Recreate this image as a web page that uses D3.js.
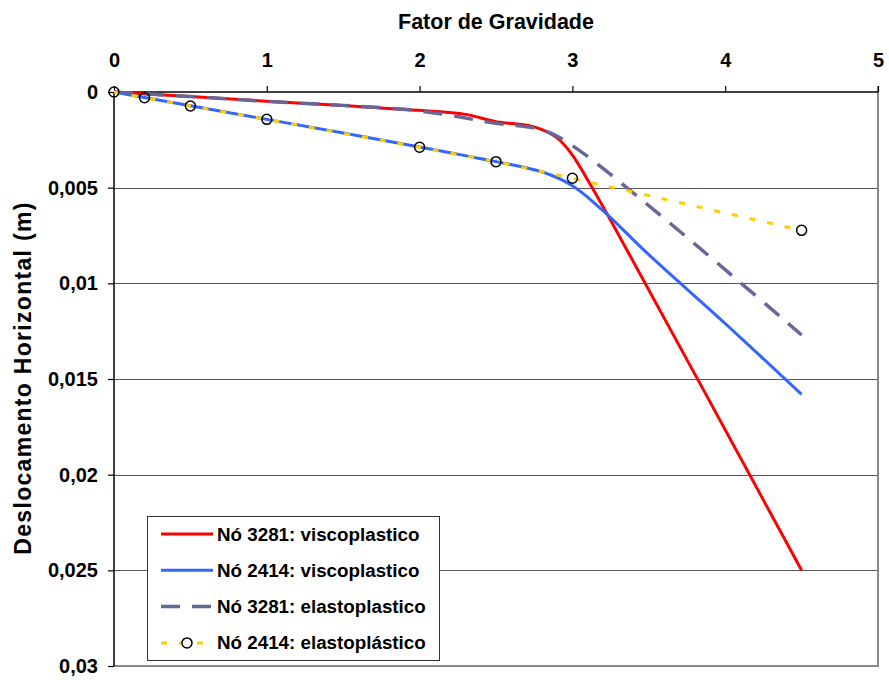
<!DOCTYPE html>
<html>
<head>
<meta charset="utf-8">
<script src="https://cdn.jsdelivr.net/npm/d3@7"></script>
<style>
  html, body { margin: 0; padding: 0; background: #fff; }
  svg { display: block; font-family: "Liberation Sans", Arial, sans-serif; font-weight: bold; }
</style>
</head>
<body>
<svg id="chart" width="889" height="680"></svg>
<script>
// Gravity factor (x) vs horizontal displacement (y, downward)
const xTicks = [0, 1, 2, 3, 4, 5];
const yTicks = [0, 0.005, 0.01, 0.015, 0.02, 0.025, 0.03];
const yTickLabels = ["0", "0,005", "0,01", "0,015", "0,02", "0,025", "0,03"];

const seriesNames = [
  "Nó 3281: viscoplastico",
  "Nó 2414: viscoplastico",
  "Nó 3281: elastoplastico",
  "Nó 2414: elastoplástico"
];

// Nó 3281 viscoplastico
const fg3281v = [0, 0.5, 1, 1.5, 2, 2.3, 2.5, 2.75, 2.9, 3.0, 3.1, 3.25, 4.5];
const d3281v  = [0, 0.00024, 0.00048, 0.00071, 0.00096, 0.00117, 0.00155, 0.00182, 0.0024, 0.0033, 0.0046, 0.0067, 0.025];

// Nó 2414 viscoplastico
const fg2414v = [0, 0.2, 0.5, 1, 2, 2.5, 2.8, 3.0, 3.2, 3.5, 4.0, 4.5];
const d2414v  = [0, 0.00029, 0.00072, 0.00143, 0.00287, 0.00364, 0.00417, 0.0049, 0.0062, 0.0085, 0.0121, 0.0158];

// Nó 3281 elastoplastico
const fg3281e = [0, 0.5, 1, 2, 2.5, 2.8, 3.0, 4.5];
const d3281e  = [0, 0.00024, 0.00049, 0.00099, 0.00164, 0.00198, 0.0028, 0.0127];

// Nó 2414 elastoplástico
const fg2414e = [0, 0.2, 0.5, 1, 2, 2.5, 3, 4.5];
const d2414e  = [0, 0.0003, 0.00073, 0.00143, 0.00289, 0.00364, 0.00451, 0.00723];

const svg = d3.select("#chart");
const pLeft = 114, pRight = 878, pTop = 92, pBottom = 666;

const x = d3.scaleLinear().domain([0, 5]).range([pLeft, pRight]);
const y = d3.scaleLinear().domain([0, 0.03]).range([pTop, pBottom]);

// horizontal gridlines
svg.append("g")
  .selectAll("line")
  .data(yTicks.slice(1, -1))
  .join("line")
  .attr("x1", pLeft).attr("x2", pRight)
  .attr("y1", d => Math.round(y(d)) + 0.5).attr("y2", d => Math.round(y(d)) + 0.5)
  .attr("stroke", "#5a5a5a").attr("stroke-width", 1);

// plot frame on right and bottom
svg.append("path")
  .attr("d", `M${pRight},${pTop - 6} V${pBottom} H${pLeft}`)
  .attr("fill", "none").attr("stroke", "#888").attr("stroke-width", 2);

// top axis
const xAxis = svg.append("g")
  .attr("transform", `translate(0,${pTop})`)
  .call(d3.axisTop(x).tickValues(xTicks).tickFormat(d3.format("d")).tickSize(6).tickPadding(19));
xAxis.selectAll("text").attr("font-size", 20).attr("font-family", "Liberation Sans, Arial, sans-serif").attr("font-weight", "bold").attr("fill", "#000");
xAxis.select(".domain").attr("d", `M${pLeft},0H${pRight}`).attr("stroke", "#000").attr("stroke-width", 1.5);
xAxis.selectAll(".tick line").attr("stroke", "#000").attr("stroke-width", 1.2);

// left axis
const yAxis = svg.append("g")
  .attr("transform", `translate(${pLeft},0)`)
  .call(d3.axisLeft(y).tickValues(yTicks).tickFormat((d, i) => yTickLabels[i]).tickSize(6).tickPadding(10));
yAxis.selectAll("text").attr("font-size", 20).attr("font-family", "Liberation Sans, Arial, sans-serif").attr("font-weight", "bold").attr("fill", "#000");
yAxis.select(".domain").attr("d", `M0,${pTop}V${pBottom}`).attr("stroke", "#000").attr("stroke-width", 1.5);
yAxis.selectAll(".tick line").attr("stroke", "#000").attr("stroke-width", 1.2);

// axis titles
svg.append("text")
  .attr("x", (pLeft + pRight) / 2).attr("y", 29)
  .attr("text-anchor", "middle").attr("font-size", 21.5)
  .text("Fator de Gravidade");

svg.append("text")
  .attr("transform", `translate(31,378) rotate(-90)`)
  .attr("text-anchor", "middle").attr("font-size", 23)
  .attr("letter-spacing", 1.3)
  .text("Deslocamento Horizontal (m)");

const pts = (xs, ys) => xs.map((v, i) => [v, ys[i]]);
const smooth = d3.line().x(d => x(d[0])).y(d => y(d[1])).curve(d3.curveCatmullRom.alpha(0.5));
const straight = d3.line().x(d => x(d[0])).y(d => y(d[1]));

const styles = [
  { data: pts(fg3281v, d3281v), color: "#ff0000", width: 3, dash: null, gen: smooth },
  { data: pts(fg2414v, d2414v), color: "#3366ff", width: 3, dash: null, gen: smooth },
  { data: pts(fg3281e, d3281e), color: "#666699", width: 3.5, dash: "19,12", gen: smooth },
  { data: pts(fg2414e, d2414e), color: "#ffcc00", width: 3, dash: "6,12", gen: straight }
];

const plot = svg.append("g");
styles.forEach(s => {
  plot.append("path")
    .attr("d", s.gen(s.data))
    .attr("fill", "none")
    .attr("stroke", s.color)
    .attr("stroke-width", s.width)
    .attr("stroke-dasharray", s.dash)
    .attr("stroke-linejoin", "round");
});

// markers of the elastoplastic series of Nó 2414
plot.selectAll("circle.mk")
  .data(styles[3].data)
  .join("circle")
  .attr("class", "mk")
  .attr("cx", d => x(d[0])).attr("cy", d => y(d[1]))
  .attr("r", 5).attr("fill", "none").attr("stroke", "#000").attr("stroke-width", 1.5);

// legend
const lg = svg.append("g").attr("transform", "translate(147,516)");
lg.append("rect")
  .attr("x", 0.5).attr("y", 0.5).attr("width", 292).attr("height", 144)
  .attr("fill", "#fff").attr("stroke", "#333").attr("stroke-width", 1);

styles.forEach((s, i) => {
  const cy = 18 + i * 36.3;
  lg.append("line")
    .attr("x1", 14).attr("x2", 66).attr("y1", cy).attr("y2", cy)
    .attr("stroke", s.color).attr("stroke-width", s.width)
    .attr("stroke-dasharray", s.dash);
  if (i === 3) {
    lg.append("circle")
      .attr("cx", 40).attr("cy", cy).attr("r", 5)
      .attr("fill", "#fff").attr("stroke", "#000").attr("stroke-width", 1.5);
  }
  lg.append("text")
    .attr("x", 70).attr("y", cy).attr("dy", "0.35em")
    .attr("font-size", 18.8)
    .text(seriesNames[i]);
});
</script>
</body>
</html>
